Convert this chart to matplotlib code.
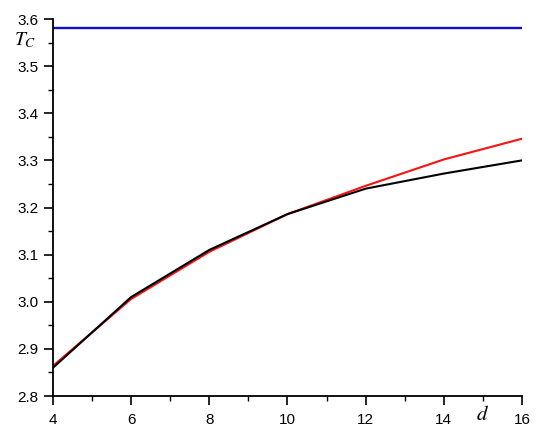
import matplotlib
matplotlib.use("Agg")
import matplotlib.pyplot as plt
from matplotlib.ticker import MultipleLocator

# values
d = [4, 6, 8, 10, 12, 14, 16]
tc_black = [2.86, 3.01, 3.11, 3.186, 3.24, 3.272, 3.30]
tc_red = [2.864, 3.006, 3.106, 3.186, 3.246, 3.302, 3.346]
tc_limit = 3.58

plt.rcParams['font.family'] = ['Liberation Sans', 'DejaVu Sans']
plt.rcParams['mathtext.fontset'] = 'stix'

fig = plt.figure(figsize=(5.5, 4.43), dpi=100)
ax = fig.add_axes([53 / 550, 1 - 396 / 443, 469 / 550, 377 / 443])

ax.axhline(tc_limit, color='#1010c8', lw=1.7)
ax.plot(d, tc_red, color='#ff1010', lw=1.5)
ax.plot(d, tc_black, color='black', lw=1.5)

ax.set_xlim(4, 16)
ax.set_ylim(2.8, 3.6)
ax.xaxis.set_major_locator(MultipleLocator(2))
ax.xaxis.set_minor_locator(MultipleLocator(1))
ax.yaxis.set_major_locator(MultipleLocator(0.1))
ax.yaxis.set_minor_locator(MultipleLocator(0.05))
ax.yaxis.set_major_formatter(plt.FormatStrFormatter('%.1f'))

ax.spines['top'].set_visible(False)
ax.spines['right'].set_visible(False)
for s in ('left', 'bottom'):
    ax.spines[s].set_linewidth(1.3)

ax.tick_params(which='major', direction='out', length=6.5, width=1.2, labelsize=11)
ax.tick_params(axis='x', which='major', pad=6)
ax.tick_params(axis='y', which='major', pad=4)
ax.tick_params(which='minor', direction='out', length=3.5, width=1.0)

# the axis label "d" sits between the 14 and 16 tick labels
ax.text(15, -0.05, '$d$', transform=ax.get_xaxis_transform(), ha='center', va='center', fontsize=15)
fig.text(25 / 550, 1 - 40 / 443, '$T_C$', ha='center', va='center', fontsize=14)

fig.savefig('out.png', dpi=100)
